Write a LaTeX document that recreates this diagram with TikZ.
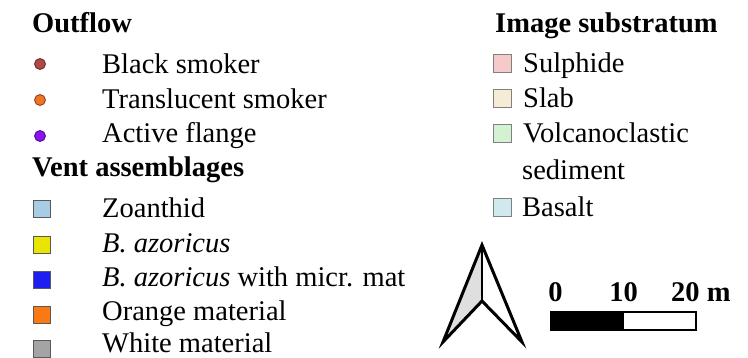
\documentclass[tikz,border=0pt]{standalone}
\usepackage{fontspec}
\setmainfont{Liberation Serif}
\definecolor{cSmoker}{HTML}{B04848}
\definecolor{cTransl}{HTML}{F07424}
\definecolor{cFlange}{HTML}{8A12EE}
\definecolor{cZoan}{HTML}{A6CDE3}
\definecolor{cBaz}{HTML}{E8E600}
\definecolor{cBazm}{HTML}{1E1EF0}
\definecolor{cOrange}{HTML}{F97A12}
\definecolor{cWhite}{HTML}{A4A4A4}
\definecolor{cSulph}{HTML}{F7CACA}
\definecolor{cSlab}{HTML}{F6EBD4}
\definecolor{cVolc}{HTML}{D2F2D2}
\definecolor{cBasalt}{HTML}{D0E9EF}
\begin{document}
\begin{tikzpicture}[x=1pt,y=-1pt,
  txt/.style={anchor=base west, inner sep=0pt, font=\fontsize{28.5}{34}\selectfont},
  hdr/.style={anchor=base west, inner sep=0pt, font=\fontsize{28.5}{34}\selectfont\bfseries},
  dotm/.style={circle, draw=#1!55!black, fill=#1, minimum size=11pt, inner sep=0pt, line width=0.8pt},
  sqm/.style={draw=gray!70!black, fill=#1, minimum size=17pt, inner sep=0pt, line width=1pt},
  sqr/.style={draw=gray, fill=#1, minimum size=18pt, inner sep=0pt, line width=1pt}]
\useasboundingbox (0,0) rectangle (748,358);
% Outflow
\node[hdr] (hout) at (32,33) {Outflow};
\node[dotm=cSmoker] (d1) at (40,64) {};
\node[txt] (t1) at (102,74) {Black smoker};
\node[dotm=cTransl] (d2) at (40,100) {};
\node[txt] (t2) at (102,108.5) {Translucent smoker};
\node[dotm=cFlange] (d3) at (40,136) {};
\node[txt] (t3) at (102,143) {Active flange};
% Vent assemblages
\node[hdr] (hvent) at (32,177) {Vent assemblages};
\node[sqm=cZoan] (s1) at (42,209.5) {};
\node[txt] (u1) at (102,218) {Zoanthid};
\node[sqm=cBaz] (s2) at (42,245) {};
\node[txt] (u2) at (102,253) {\textit{B. azoricus}};
\node[sqm=cBazm] (s3) at (42,280) {};
\node[txt] (u3) at (102,287) {\textit{B. azoricus} with micr. mat};
\node[sqm=cOrange] (s4) at (42,315) {};
\node[txt] (u4) at (102,320.5) {Orange material};
\node[sqm=cWhite] (s5) at (42,349.5) {};
\node[txt] (u5) at (102,352.5) {White material};
% Image substratum
\node[hdr] (himg) at (495,33) {Image substratum};
\node[sqr=cSulph] (r1) at (502.5,63.5) {};
\node[txt] (v1) at (523,73) {Sulphide};
\node[sqr=cSlab] (r2) at (502.5,98.5) {};
\node[txt] (v2) at (523,108) {Slab};
\node[sqr=cVolc] (r3) at (502.5,134) {};
\node[txt] (v3) at (523,143) {Volcanoclastic};
\node[txt] (v3b) at (522,180) {sediment};
\node[sqr=cBasalt] (r4) at (502.5,208) {};
\node[txt] (v4) at (522,217) {Basalt};
% North arrow
\coordinate (ntip) at (482,245);
\coordinate (nbl) at (443,342);
\coordinate (nnotch) at (482,301);
\coordinate (nbr) at (522,342);
\fill[gray!25] (ntip) -- (nbl) -- (nnotch) -- cycle;
\draw[line width=3pt, line join=miter] (ntip) -- (nbl) -- (nnotch) -- (nbr) -- cycle;
\draw[line width=1.2pt] (ntip) -- (nnotch);
% Scale bar
\fill[black] (551,312) rectangle (624,330);
\draw[line width=2pt] (551,312) rectangle (696,330);
\node[hdr, anchor=base] (sc0) at (555.5,302) {0};
\node[hdr, anchor=base] (sc10) at (623.5,302) {10};
\node[hdr] (sc20) at (671,302) {20 m};
\end{tikzpicture}
\end{document}
